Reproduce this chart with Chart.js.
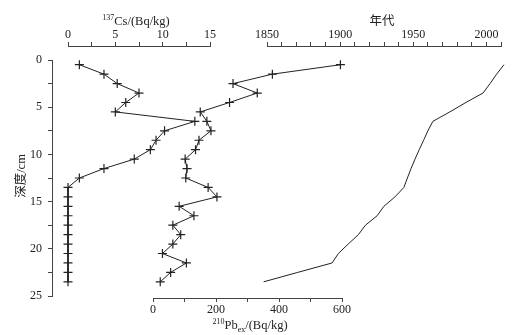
<!DOCTYPE html>
<html>
<head>
<meta charset="utf-8">
<script src="https://cdn.jsdelivr.net/npm/chart.js@4"></script>
<style>
  body { margin: 0; background: #fff; }
  canvas { display: block; }
</style>
</head>
<body>
<canvas id="profileChart" width="524" height="335"></canvas>
<script>
// 深度 (cm), sample midpoints
const depth = [0.5, 1.5, 2.5, 3.5, 4.5, 5.5, 6.5, 7.5, 8.5, 9.5, 10.5, 11.5,
               12.5, 13.5, 14.5, 15.5, 16.5, 17.5, 18.5, 19.5, 20.5, 21.5, 22.5, 23.5];
// 137Cs (Bq/kg)
const cs137 = [1.2, 3.8, 5.2, 7.5, 6.1, 5.0, 13.4, 10.2, 9.3, 8.7, 7.0, 3.8,
               1.2, 0, 0, 0, 0, 0, 0, 0, 0, 0, 0, 0];
// 210Pbex (Bq/kg)
const pb210 = [595, 379, 254, 331, 243, 150, 171, 184, 146, 135, 102, 108,
               104, 175, 203, 83, 130, 63, 88, 63, 30, 106, 56, 23];
// 年代
const years = [2012, 2007, 2002.5, 1997.7, 1986, 1975, 1963.4, 1960, 1957.1, 1954.1, 1951.2, 1948.5,
               1946, 1943.6, 1937.5, 1929.9, 1925.3, 1917.3, 1912.5, 1905.5, 1898.8, 1894.5, 1871, 1847.7];

const serif = "'Liberation Serif', 'Noto Sans CJK SC', serif";
const ink = '#222';
const axisInk = '#444';

// where each axis sits on the page (pixels)
const boxes = {
  y:     { left: 0,   right: 52,  top: 60,  bottom: 296 },
  xCs:   { left: 68,  right: 210, top: 0,   bottom: 46 },
  xYear: { left: 267, right: 501, top: 0,   bottom: 46 },
  xPb:   { left: 153, right: 342, top: 298, bottom: 335 },
};

const placeAxes = {
  id: 'placeAxes',
  afterLayout(chart) {
    for (const id in boxes) {
      const s = chart.scales[id];
      const b = boxes[id];
      Object.assign(s, b);
      s.width = b.right - b.left;
      s.height = b.bottom - b.top;
      s.configure();
    }
  },
};

// draw a title made of pieces with super/subscripts
function richText(ctx, parts, cx, baseline) {
  let w = 0;
  parts.forEach(p => {
    ctx.font = p.size + 'px ' + serif;
    p.w = ctx.measureText(p.t).width;
    w += p.w;
  });
  let x = cx - w / 2;
  parts.forEach(p => {
    ctx.font = p.size + 'px ' + serif;
    ctx.fillText(p.t, x, baseline + (p.dy || 0));
    x += p.w;
  });
}

const axisTitles = {
  id: 'axisTitles',
  afterDraw(chart) {
    const ctx = chart.ctx;
    ctx.save();
    ctx.fillStyle = ink;
    ctx.textAlign = 'left';
    ctx.textBaseline = 'alphabetic';
    richText(ctx, [{ t: '137', size: 8, dy: -5 }, { t: 'Cs/(Bq/kg)', size: 12.5 }], 136, 25);
    richText(ctx, [{ t: '210', size: 8, dy: -5 }, { t: 'Pb', size: 12.5 },
                   { t: 'ex', size: 8, dy: 3 }, { t: '/(Bq/kg)', size: 12.5 }], 250, 329);
    richText(ctx, [{ t: '年代', size: 12.5 }], 382, 25);
    ctx.translate(22, 176);
    ctx.rotate(-Math.PI / 2);
    ctx.textAlign = 'center';
    ctx.textBaseline = 'middle';
    ctx.font = '12.5px ' + serif;
    ctx.fillText('深度/cm', 0, 0);
    ctx.restore();
  },
};

function axis(position, min, max, step, labelEvery, pad) {
  return {
    type: 'linear',
    position: position,
    min: min,
    max: max,
    grid: { drawOnChartArea: false, drawTicks: true, tickLength: 4, color: axisInk },
    border: { display: true, color: axisInk, width: 1 },
    ticks: {
      stepSize: step,
      autoSkip: false,
      maxRotation: 0,
      padding: pad,
      color: ink,
      font: { family: serif, size: 12 },
      callback: v => (Math.abs(v / labelEvery - Math.round(v / labelEvery)) < 1e-6 ? v : ''),
    },
  };
}

const yAxis = axis('left', 0, 25, 2.5, 5, 6);
yAxis.reverse = true;

new Chart(document.getElementById('profileChart'), {
  type: 'scatter',
  data: {
    datasets: [
      {
        label: '137Cs',
        data: depth.map((d, i) => ({ x: cs137[i], y: d })),
        xAxisID: 'xCs',
        yAxisID: 'y',
        showLine: true,
        borderColor: ink,
        borderWidth: 1,
        pointStyle: 'cross',
        pointRadius: 4.5,
        pointBorderWidth: 1.2,
        pointBorderColor: ink,
        clip: false,
      },
      {
        label: '210Pbex',
        data: depth.map((d, i) => ({ x: pb210[i], y: d })),
        xAxisID: 'xPb',
        yAxisID: 'y',
        showLine: true,
        borderColor: ink,
        borderWidth: 1,
        pointStyle: 'cross',
        pointRadius: 4.5,
        pointBorderWidth: 1.2,
        pointBorderColor: ink,
        clip: false,
      },
      {
        label: '年代',
        data: depth.map((d, i) => ({ x: years[i], y: d })),
        xAxisID: 'xYear',
        yAxisID: 'y',
        showLine: true,
        borderColor: ink,
        borderWidth: 1,
        pointRadius: 0,
        clip: false,
      },
    ],
  },
  options: {
    responsive: false,
    animation: false,
    plugins: {
      legend: { display: false },
      tooltip: { enabled: false },
    },
    scales: {
      y: yAxis,
      xCs: axis('top', 0, 15, 2.5, 5, 0),
      xYear: axis('top', 1850, 2010, 10, 50, 0),
      xPb: axis('bottom', 0, 600, 100, 200, 1),
    },
  },
  plugins: [placeAxes, axisTitles],
});
</script>
</body>
</html>
